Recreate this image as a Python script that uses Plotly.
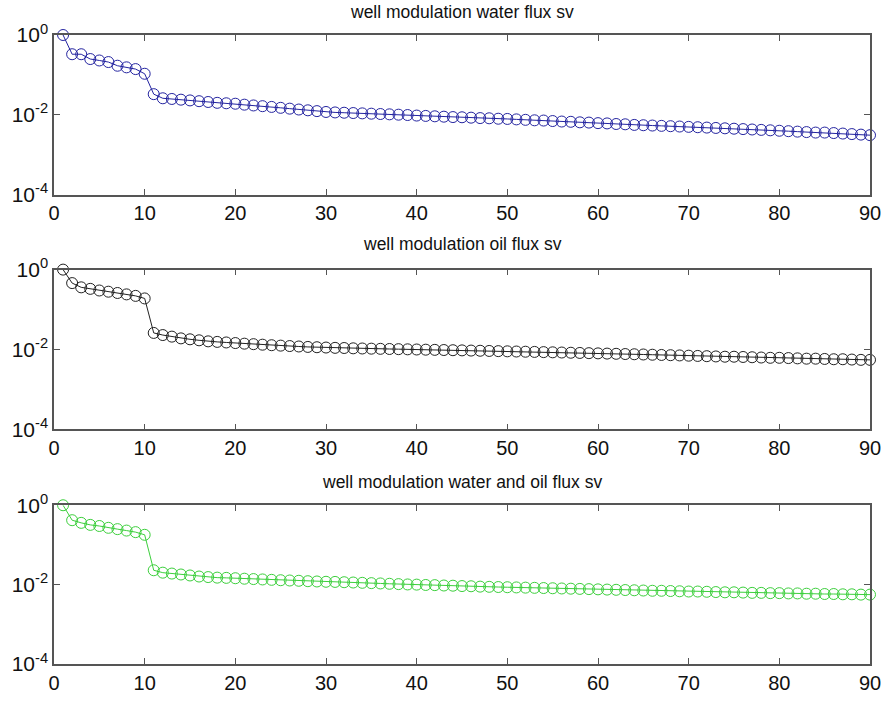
import plotly.graph_objects as go

idx = list(range(1, 91))

water_sv = [1.0, 0.33, 0.33, 0.25, 0.23, 0.21, 0.17, 0.155, 0.14, 0.107,
            0.033, 0.026, 0.025, 0.024, 0.023, 0.022, 0.021, 0.020, 0.0195, 0.019,
            0.018, 0.0172, 0.0165, 0.0158, 0.015, 0.0143, 0.0136, 0.013, 0.0124, 0.0118,
            0.0115, 0.0113, 0.0111, 0.0109, 0.0107, 0.0105, 0.0103, 0.0101, 0.0099, 0.0096,
            0.0094, 0.0092, 0.0090, 0.0088, 0.0087, 0.0085, 0.0083, 0.0082, 0.0080, 0.0079,
            0.0077, 0.0075, 0.0073, 0.0072, 0.0070, 0.0068, 0.0067, 0.0065, 0.0064, 0.0062,
            0.0061, 0.0059, 0.0058, 0.0056, 0.0055, 0.0054, 0.0053, 0.0052, 0.0051, 0.0050,
            0.0049, 0.0048, 0.0047, 0.0046, 0.0045, 0.0044, 0.0043, 0.0042, 0.0041, 0.0040,
            0.0039, 0.0038, 0.0037, 0.0036, 0.0036, 0.0035, 0.0034, 0.0033, 0.0032, 0.0031]

oil_sv = [1.0, 0.46, 0.36, 0.33, 0.30, 0.28, 0.26, 0.24, 0.22, 0.19,
          0.026, 0.023, 0.021, 0.019, 0.018, 0.017, 0.016, 0.0155, 0.015, 0.0145,
          0.014, 0.0136, 0.0132, 0.0128, 0.0125, 0.0122, 0.0119, 0.0116, 0.0114, 0.0112,
          0.0110, 0.0109, 0.0107, 0.0106, 0.0105, 0.0104, 0.0103, 0.0102, 0.0101, 0.0100,
          0.0099, 0.0098, 0.0097, 0.0096, 0.0095, 0.0094, 0.0093, 0.0092, 0.0091, 0.0090,
          0.0089, 0.0088, 0.0087, 0.0086, 0.0085, 0.0084, 0.0083, 0.0082, 0.0081, 0.0080,
          0.0079, 0.0078, 0.0077, 0.0076, 0.0075, 0.0074, 0.0073, 0.0072, 0.0071, 0.0070,
          0.0069, 0.0068, 0.0067, 0.0066, 0.0066, 0.0065, 0.0064, 0.0063, 0.0062, 0.0062,
          0.0061, 0.0060, 0.0059, 0.0059, 0.0058, 0.0057, 0.0057, 0.0056, 0.0055, 0.0055]

both_sv = [1.0, 0.42, 0.36, 0.32, 0.30, 0.27, 0.25, 0.23, 0.21, 0.18,
           0.023, 0.020, 0.019, 0.018, 0.017, 0.016, 0.0155, 0.015, 0.0148, 0.0145,
           0.0141, 0.0138, 0.0135, 0.0132, 0.0129, 0.0127, 0.0125, 0.0122, 0.012, 0.0118,
           0.0117, 0.0115, 0.0113, 0.0111, 0.0109, 0.0107, 0.0105, 0.0103, 0.0101, 0.0100,
           0.0098, 0.0097, 0.0095, 0.0094, 0.0092, 0.0091, 0.0089, 0.0088, 0.0087, 0.0086,
           0.0085, 0.0084, 0.0083, 0.0082, 0.0081, 0.0080, 0.0079, 0.0078, 0.0077, 0.0076,
           0.0075, 0.0074, 0.0073, 0.0072, 0.0071, 0.0070, 0.0070, 0.0069, 0.0068, 0.0067,
           0.0067, 0.0066, 0.0065, 0.0064, 0.0064, 0.0063, 0.0062, 0.0062, 0.0061, 0.0061,
           0.0060, 0.0060, 0.0059, 0.0059, 0.0058, 0.0058, 0.0057, 0.0057, 0.0056, 0.0056]

titles = ["well modulation water flux sv",
          "well modulation oil flux sv",
          "well modulation water and oil flux sv"]
series = [water_sv, oil_sv, both_sv]
colors = ["#2424a0", "#222222", "#3ccf3c"]

x_ticks = [0, 10, 20, 30, 40, 50, 60, 70, 80, 90]
y_tickvals = [1, 1e-2, 1e-4]
y_ticktext = ["10<sup>0</sup>", "10<sup>-2</sup>", "10<sup>-4</sup>"]

domains = [[0.7461, 1.0], [0.3730, 0.6270], [0.0, 0.2524]]
title_y = [1.036, 0.667, 0.290]

font = "Liberation Sans, Arial, sans-serif"
fig = go.Figure()
axis_color = "#555555"

for i in range(3):
    xa = "x" if i == 0 else f"x{i+1}"
    ya = "y" if i == 0 else f"y{i+1}"
    fig.add_trace(go.Scatter(
        x=idx, y=series[i], mode="lines+markers",
        line=dict(color=colors[i], width=1),
        marker=dict(symbol="circle-open", size=11, color=colors[i], line=dict(width=1)),
        xaxis=xa, yaxis=ya, cliponaxis=False, showlegend=False))
    xkey = "xaxis" if i == 0 else f"xaxis{i+1}"
    ykey = "yaxis" if i == 0 else f"yaxis{i+1}"
    fig.layout[xkey] = dict(
        domain=[0, 1], anchor=ya, range=[0, 90], tickvals=x_ticks,
        ticks="inside", ticklen=6, tickcolor=axis_color, mirror="ticks",
        showline=True, linecolor=axis_color, linewidth=1.5, showgrid=False, zeroline=False,
        tickfont=dict(family=font, size=20, color="#111111"))
    fig.layout[ykey] = dict(
        domain=domains[i], anchor=xa, type="log", range=[-4, 0],
        tickvals=y_tickvals, ticktext=y_ticktext,
        ticks="inside", ticklen=6, tickcolor=axis_color, mirror="ticks",
        showline=True, linecolor=axis_color, linewidth=1.5, showgrid=False, zeroline=False,
        tickfont=dict(family=font, size=21, color="#111111"))
    fig.add_annotation(text=titles[i], x=0.5, y=title_y[i], xref="paper", yref="paper",
                       showarrow=False, xanchor="center", yanchor="middle",
                       font=dict(family=font, size=17.5, color="#111111"))

fig.update_layout(width=893, height=706, margin=dict(l=51, r=16, t=35, b=33),
                  paper_bgcolor="white", plot_bgcolor="white")

fig.write_html("out.html")
